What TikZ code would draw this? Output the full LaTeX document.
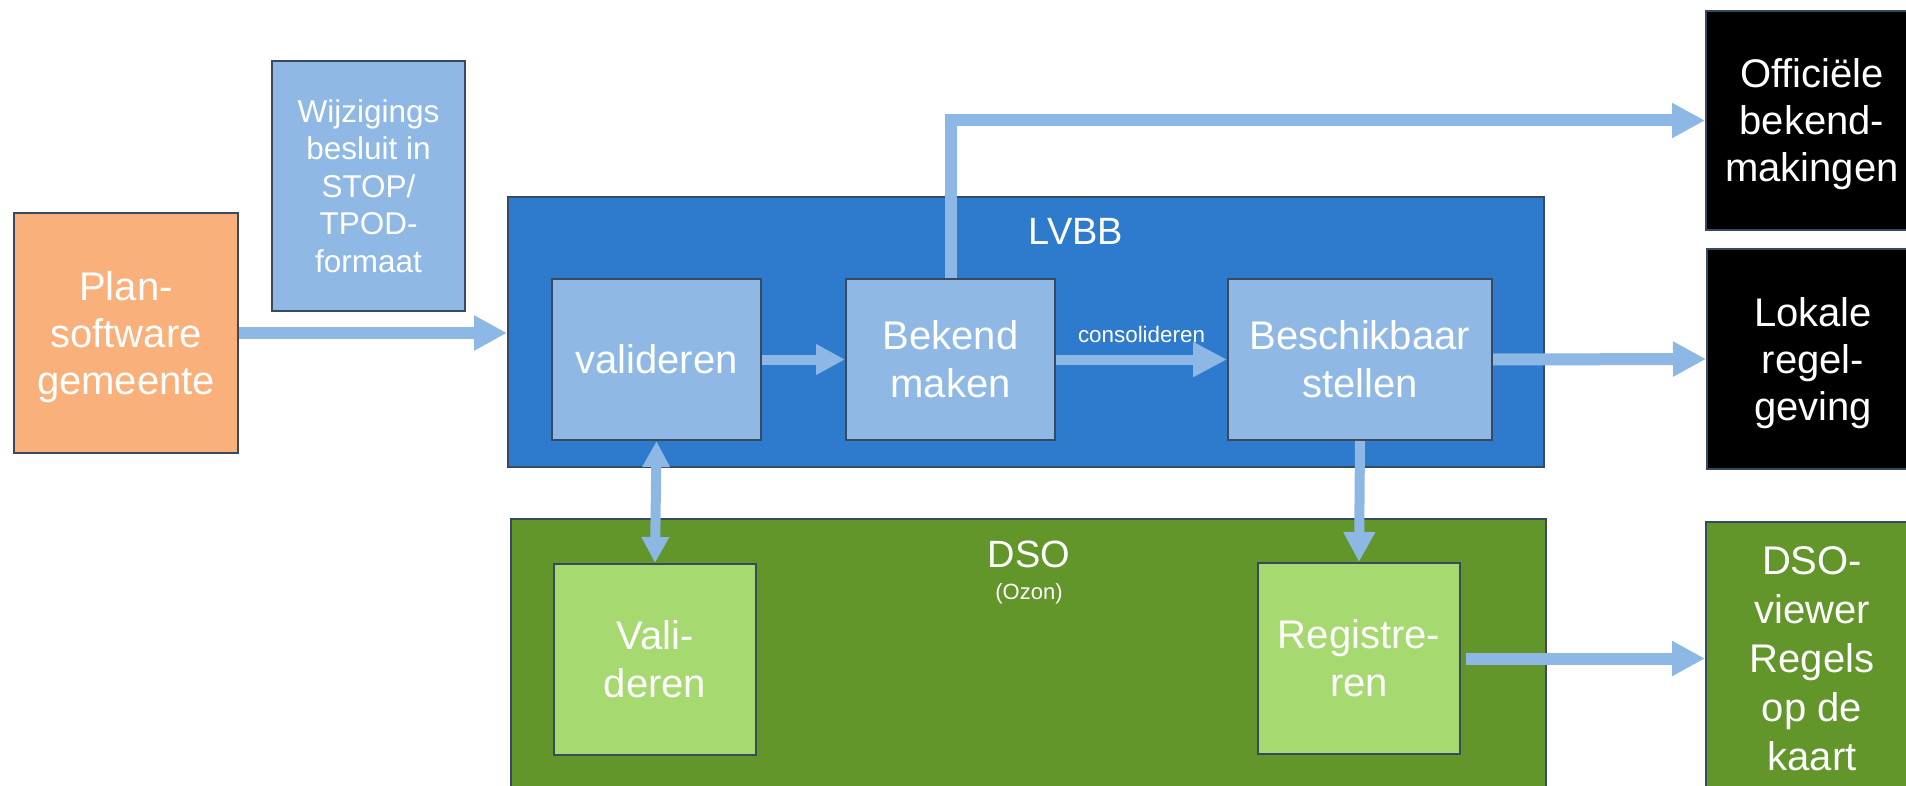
\documentclass[tikz,border=0pt]{standalone}
\usepackage{fontspec}
\setmainfont{Liberation Sans}
\usetikzlibrary{arrows.meta}
\definecolor{orangebox}{HTML}{FAB07A}
\definecolor{lightblue}{HTML}{8FB9E4}
\definecolor{lvbbblue}{HTML}{2E7ACD}
\definecolor{dsogreen}{HTML}{62952A}
\definecolor{lightgreen}{HTML}{A7D971}
\definecolor{edgeslate}{HTML}{3A4A5E}
\definecolor{arrowblue}{HTML}{8DB8E5}
\begin{document}
\begin{tikzpicture}[x=0.5pt,y=-0.5pt,
  box/.style={draw=edgeslate, line width=1pt, text=white, align=center, inner sep=0pt, text depth=0pt},
  bigtxt/.style={font=\fontsize{20pt}{23.5pt}\selectfont},
  smalltxt/.style={font=\fontsize{15.75pt}{18.75pt}\selectfont},
  arr/.style={draw=arrowblue, line width=6pt, -{Triangle[length=16.5pt,width=16.5pt]}},
  arrin/.style={draw=arrowblue, line width=5pt, -{Triangle[length=14.5pt,width=14.5pt]}},
  lbl/.style={text=white, inner sep=0pt}
]
\useasboundingbox (0,0) rectangle (1906,786);
\clip (0,0) rectangle (1906,786);
\fill[white] (0,0) rectangle (1906,786);

% left boxes
\node[box, bigtxt, fill=orangebox, minimum width=112pt, minimum height=120pt] (plan) at (126,333) {Plan-\\software\\gemeente};
\node[box, smalltxt, fill=lightblue, minimum width=96.5pt, minimum height=125pt] (wijz) at (368.5,186) {Wijzigings\\besluit in\\STOP/\\TPOD-\\formaat};

% LVBB
\node[box, fill=lvbbblue, minimum width=518pt, minimum height=135pt] (lvbb) at (1026,332) {};
\node[lbl, anchor=base, font=\fontsize{19pt}{22pt}\selectfont] (lvbblabel) at (1076,245) {LVBB};
\node[box, bigtxt, fill=lightblue, minimum width=104.5pt, minimum height=80.5pt] (val) at (656.5,359.5) {valideren};
\node[box, bigtxt, fill=lightblue, minimum width=104.5pt, minimum height=80.5pt, font=\fontsize{20pt}{24pt}\selectfont] (bek) at (950.5,359.5) {Bekend\\maken};
\node[box, bigtxt, fill=lightblue, minimum width=132pt, minimum height=80.5pt, font=\fontsize{20pt}{24pt}\selectfont] (bes) at (1360,359.5) {Beschikbaar\\stellen};

% DSO
\node[box, fill=dsogreen, minimum width=517.5pt, minimum height=145.5pt] (dso) at (1028.5,664.5) {};
\node[lbl, anchor=base, font=\fontsize{19pt}{22pt}\selectfont] (dsolabel) at (1029,567) {DSO};
\node[lbl, anchor=base, font=\fontsize{11pt}{13pt}\selectfont] (ozon) at (1029,599) {(Ozon)};
\node[box, bigtxt, fill=lightgreen, minimum width=101pt, minimum height=95.5pt, font=\fontsize{20pt}{24pt}\selectfont] (vali) at (655,659.5) {Vali-\\deren};
\node[box, bigtxt, fill=lightgreen, minimum width=101pt, minimum height=95.5pt, font=\fontsize{20pt}{24pt}\selectfont] (reg) at (1359,658.5) {Registre-\\ren};

% right boxes
\node[box, bigtxt, fill=black, minimum width=106pt, minimum height=109.5pt] (off) at (1812,120.5) {Officiële\\bekend-\\makingen};
\node[box, bigtxt, fill=black, minimum width=106pt, minimum height=110pt] (lok) at (1813,359) {Lokale\\regel-\\geving};
\node[box, fill=dsogreen, minimum width=106pt, minimum height=136.5pt, font=\fontsize{20pt}{24.5pt}\selectfont] (viewer) at (1812,658.5) {DSO-\\viewer\\Regels\\op de\\kaart};

% connectors
\draw[arr] (plan.east) -- (lvbb.west |- plan.east);
\draw[arrin] (val.east) -- (bek.west);
\draw[arrin, -{Triangle[length=17pt,width=16.5pt]}] (bek.east) -- node[lbl, yshift=12.5pt, font=\fontsize{11.2pt}{13pt}\selectfont] (cons) {consolideren} (bes.west);
\draw[arr] (bek.north) |- (off.west);
\draw[arr] (bes.east) -- (lok.west);
\draw[draw=arrowblue, line width=5pt, {Triangle[length=13pt,width=13pt]}-{Triangle[length=13pt,width=13pt]}] (val.south) -- (vali.north);
\draw[draw=arrowblue, line width=5pt, -{Triangle[length=15pt,width=15pt]}] (bes.south) -- (reg.north);
\draw[arr] (reg.east) ++(5,0) coordinate (regout) (regout) -- (viewer.west);
\end{tikzpicture}
\end{document}
